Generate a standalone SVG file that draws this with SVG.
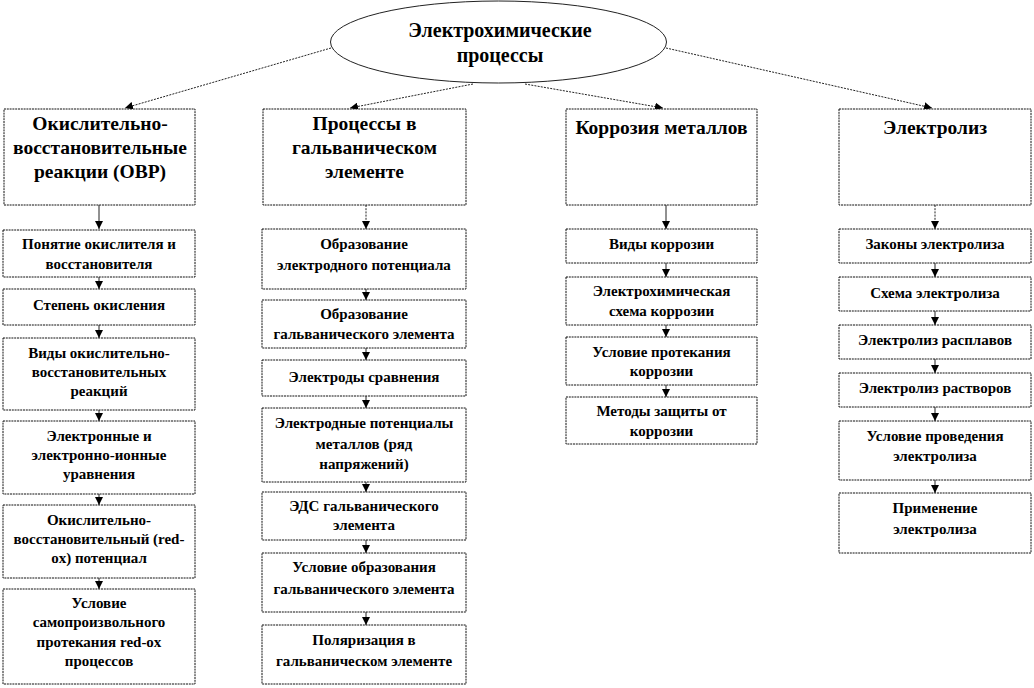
<svg xmlns="http://www.w3.org/2000/svg" width="1034" height="688" viewBox="0 0 1034 688">
<style>
  .bg{fill:#fff}
  .box{fill:#fff;stroke:#111;stroke-width:1;stroke-dasharray:2 0.8}
  .ell{fill:#fff;stroke:#222;stroke-width:1}
  .t{font-family:"Liberation Serif","DejaVu Serif","Times New Roman",serif;font-weight:bold;fill:#000;text-anchor:middle}
  .h0{font-size:20px}
  .h1{font-size:19.5px}
  .s{font-size:15px}
  .c{stroke:#222;stroke-width:1;fill:none}
  .d{stroke-dasharray:2 1.2}
</style>
<defs>
  <marker id="ah" viewBox="0 0 10 10" refX="10" refY="5" markerWidth="8" markerHeight="8" markerUnits="userSpaceOnUse" orient="auto">
    <path d="M0,0 L10,5 L0,10 Z" fill="#000"/>
  </marker>
</defs>
<rect class="bg" x="0" y="0" width="1034" height="688"/>

<g id="connectors">
  <line class="c d" x1="331" y1="48" x2="125" y2="108" marker-end="url(#ah)"/>
  <line class="c d" x1="473" y1="84" x2="350" y2="108" marker-end="url(#ah)"/>
  <line class="c d" x1="525" y1="84" x2="663" y2="108" marker-end="url(#ah)"/>
  <line class="c d" x1="666" y1="48" x2="932" y2="108" marker-end="url(#ah)"/>

  <line class="c" x1="99" y1="205" x2="99" y2="229" marker-end="url(#ah)"/>
  <line class="c d" x1="366" y1="205" x2="366" y2="229" marker-end="url(#ah)"/>
  <line class="c" x1="666" y1="205" x2="666" y2="229" marker-end="url(#ah)"/>
  <line class="c d" x1="935" y1="205" x2="935" y2="229" marker-end="url(#ah)"/>

  <line class="c" x1="99" y1="277" x2="99" y2="289" marker-end="url(#ah)"/>
  <line class="c" x1="99" y1="325" x2="99" y2="338" marker-end="url(#ah)"/>
  <line class="c" x1="99" y1="410" x2="99" y2="421" marker-end="url(#ah)"/>
  <line class="c" x1="99" y1="494" x2="99" y2="505" marker-end="url(#ah)"/>
  <line class="c" x1="99" y1="578" x2="99" y2="589" marker-end="url(#ah)"/>

  <line class="c" x1="366" y1="289" x2="366" y2="300" marker-end="url(#ah)"/>
  <line class="c" x1="366" y1="348" x2="366" y2="360" marker-end="url(#ah)"/>
  <line class="c" x1="366" y1="396" x2="366" y2="408" marker-end="url(#ah)"/>
  <line class="c" x1="366" y1="482" x2="366" y2="492" marker-end="url(#ah)"/>
  <line class="c" x1="366" y1="540" x2="366" y2="553" marker-end="url(#ah)"/>
  <line class="c" x1="366" y1="612" x2="366" y2="625" marker-end="url(#ah)"/>

  <line class="c" x1="666" y1="263" x2="666" y2="277" marker-end="url(#ah)"/>
  <line class="c" x1="666" y1="325" x2="666" y2="337" marker-end="url(#ah)"/>
  <line class="c" x1="666" y1="385" x2="666" y2="397" marker-end="url(#ah)"/>

  <line class="c" x1="935" y1="263" x2="935" y2="277" marker-end="url(#ah)"/>
  <line class="c" x1="935" y1="311" x2="935" y2="325" marker-end="url(#ah)"/>
  <line class="c" x1="935" y1="359" x2="935" y2="373" marker-end="url(#ah)"/>
  <line class="c" x1="935" y1="407" x2="935" y2="421" marker-end="url(#ah)"/>
  <line class="c" x1="935" y1="480" x2="935" y2="493" marker-end="url(#ah)"/>
</g>

<g id="root">
  <ellipse class="ell" cx="498.5" cy="42" rx="168" ry="41"/>
  <text class="t h0" x="500" y="37">Электрохимические</text>
  <text class="t h0" x="500" y="62">процессы</text>
</g>

<g id="ovr">
  <rect class="box" x="4" y="109" width="191" height="96"/>
  <text class="t h1" x="100" y="130">Окислительно-</text>
  <text class="t h1" x="100" y="154">восстановительные</text>
  <text class="t h1" x="100" y="178">реакции (ОВР)</text>
</g>
<g id="galv">
  <rect class="box" x="263" y="109" width="203" height="96"/>
  <text class="t h1" x="364.5" y="130">Процессы в</text>
  <text class="t h1" x="364.5" y="154">гальваническом</text>
  <text class="t h1" x="364.5" y="178">элементе</text>
</g>
<g id="corr">
  <rect class="box" x="566" y="109" width="191" height="96"/>
  <text class="t h1" x="661.5" y="134">Коррозия металлов</text>
</g>
<g id="electrolysis">
  <rect class="box" x="839" y="109" width="192" height="96"/>
  <text class="t h1" x="935" y="134">Электролиз</text>
</g>

<!-- column 1 -->
<g id="c1a"><rect class="box" x="3" y="230" width="192" height="47"/>
  <text class="t s" x="99" y="249">Понятие окислителя и</text>
  <text class="t s" x="99" y="269">восстановителя</text></g>
<g id="c1b"><rect class="box" x="3" y="289" width="192" height="36"/>
  <text class="t s" x="99" y="310">Степень окисления</text></g>
<g id="c1c"><rect class="box" x="3" y="338" width="192" height="72"/>
  <text class="t s" x="99" y="358">Виды окислительно-</text>
  <text class="t s" x="99" y="377">восстановительных</text>
  <text class="t s" x="99" y="396">реакций</text></g>
<g id="c1d"><rect class="box" x="3" y="421" width="192" height="73"/>
  <text class="t s" x="99" y="441">Электронные и</text>
  <text class="t s" x="99" y="460">электронно-ионные</text>
  <text class="t s" x="99" y="479">уравнения</text></g>
<g id="c1e"><rect class="box" x="3" y="505" width="192" height="73"/>
  <text class="t s" x="99" y="525">Окислительно-</text>
  <text class="t s" x="99" y="544">восстановительный (red-</text>
  <text class="t s" x="99" y="563">ox) потенциал</text></g>
<g id="c1f"><rect class="box" x="3" y="589" width="192" height="95"/>
  <text class="t s" x="99" y="608">Условие</text>
  <text class="t s" x="99" y="627">самопроизвольного</text>
  <text class="t s" x="99" y="647">протекания red-ox</text>
  <text class="t s" x="99" y="666">процессов</text></g>

<!-- column 2 -->
<g id="c2a"><rect class="box" x="262" y="229" width="204" height="60"/>
  <text class="t s" x="364" y="249">Образование</text>
  <text class="t s" x="364" y="270">электродного потенциала</text></g>
<g id="c2b"><rect class="box" x="262" y="300" width="204" height="48"/>
  <text class="t s" x="364" y="319">Образование</text>
  <text class="t s" x="364" y="339">гальванического элемента</text></g>
<g id="c2c"><rect class="box" x="262" y="360" width="204" height="36"/>
  <text class="t s" x="364" y="382">Электроды сравнения</text></g>
<g id="c2d"><rect class="box" x="262" y="408" width="204" height="74"/>
  <text class="t s" x="364" y="428">Электродные потенциалы</text>
  <text class="t s" x="364" y="449">металлов (ряд</text>
  <text class="t s" x="364" y="469">напряжений)</text></g>
<g id="c2e"><rect class="box" x="262" y="492" width="204" height="48"/>
  <text class="t s" x="364" y="511">ЭДС гальванического</text>
  <text class="t s" x="364" y="530">элемента</text></g>
<g id="c2f"><rect class="box" x="262" y="553" width="204" height="59"/>
  <text class="t s" x="364" y="572">Условие образования</text>
  <text class="t s" x="364" y="594">гальванического элемента</text></g>
<g id="c2g"><rect class="box" x="262" y="625" width="204" height="59"/>
  <text class="t s" x="364" y="645">Поляризация в</text>
  <text class="t s" x="364" y="666">гальваническом элементе</text></g>

<!-- column 3 -->
<g id="c3a"><rect class="box" x="566" y="229" width="191" height="34"/>
  <text class="t s" x="661.5" y="249">Виды коррозии</text></g>
<g id="c3b"><rect class="box" x="566" y="277" width="191" height="48"/>
  <text class="t s" x="661.5" y="296">Электрохимическая</text>
  <text class="t s" x="661.5" y="316">схема коррозии</text></g>
<g id="c3c"><rect class="box" x="566" y="337" width="191" height="48"/>
  <text class="t s" x="661.5" y="357">Условие протекания</text>
  <text class="t s" x="661.5" y="376">коррозии</text></g>
<g id="c3d"><rect class="box" x="566" y="397" width="191" height="47"/>
  <text class="t s" x="661.5" y="416">Методы защиты от</text>
  <text class="t s" x="661.5" y="436">коррозии</text></g>

<!-- column 4 -->
<g id="c4a"><rect class="box" x="839" y="229" width="192" height="34"/>
  <text class="t s" x="935" y="249">Законы электролиза</text></g>
<g id="c4b"><rect class="box" x="839" y="277" width="192" height="34"/>
  <text class="t s" x="935" y="298">Схема электролиза</text></g>
<g id="c4c"><rect class="box" x="839" y="325" width="192" height="34"/>
  <text class="t s" x="935" y="345">Электролиз расплавов</text></g>
<g id="c4d"><rect class="box" x="839" y="373" width="192" height="34"/>
  <text class="t s" x="935" y="393">Электролиз растворов</text></g>
<g id="c4e"><rect class="box" x="839" y="421" width="192" height="59"/>
  <text class="t s" x="935" y="441">Условие проведения</text>
  <text class="t s" x="935" y="461">электролиза</text></g>
<g id="c4f"><rect class="box" x="839" y="493" width="192" height="60"/>
  <text class="t s" x="935" y="513">Применение</text>
  <text class="t s" x="935" y="534">электролиза</text></g>
</svg>
